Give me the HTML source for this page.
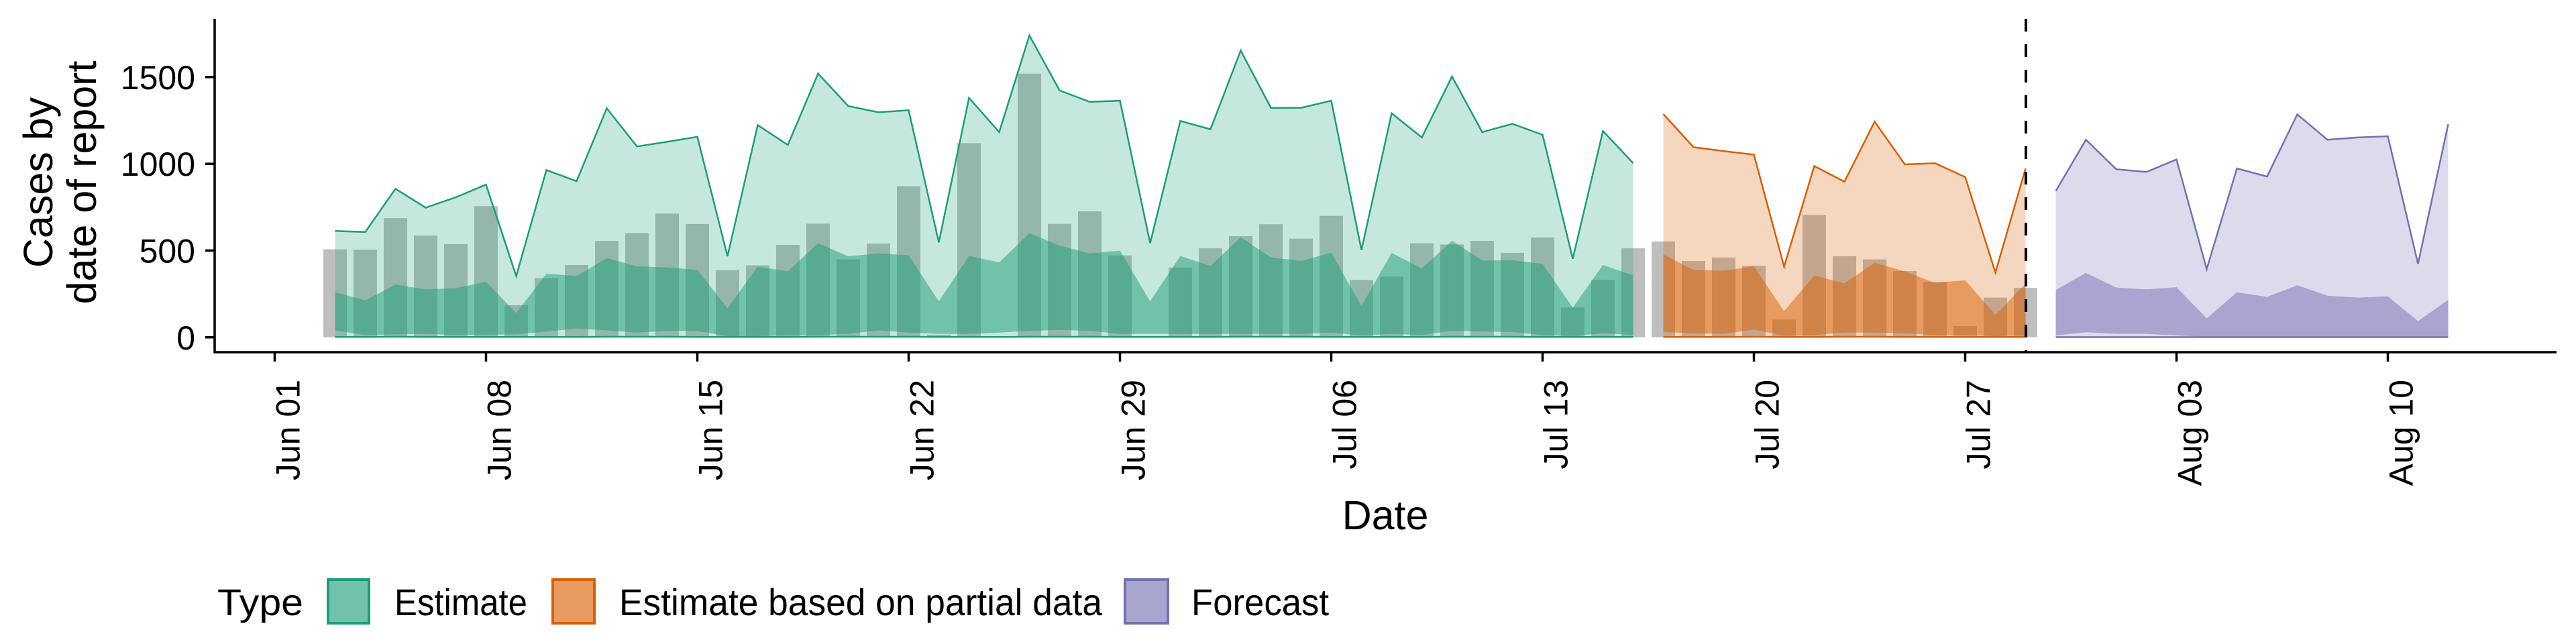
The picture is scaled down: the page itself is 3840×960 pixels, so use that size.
<!DOCTYPE html>
<html><head><meta charset="utf-8"><style>
html,body{margin:0;padding:0;background:#fff;}
svg{display:block;font-family:"Liberation Sans",Arial,sans-serif;}
</style></head><body>
<svg id="chart" width="3840" height="960" viewBox="0 0 3840 960" xmlns="http://www.w3.org/2000/svg">
<g id="bars"></g>
<g id="bands"></g>
<g id="axes"></g>
<line x1="3020" y1="28" x2="3020" y2="525" stroke="#000" stroke-width="4" stroke-dasharray="19,19"/>
<text transform="translate(78,272) rotate(-90)" text-anchor="middle" font-size="61">Cases by</text>
<text transform="translate(143,272) rotate(-90)" text-anchor="middle" font-size="61">date of report</text>
<text x="2065" y="789" text-anchor="middle" font-size="61">Date</text>
<g>
<text x="324" y="917" font-size="56" textLength="128" lengthAdjust="spacingAndGlyphs">Type</text>
<rect x="489" y="864" width="61" height="65" fill="#71c2aa" stroke="#1b9e77" stroke-width="4"/>
<text x="588" y="917" font-size="56" textLength="198" lengthAdjust="spacingAndGlyphs">Estimate</text>
<rect x="824" y="864" width="62" height="65" fill="#e89b60" stroke="#d95f02" stroke-width="4"/>
<text x="923" y="917" font-size="56" textLength="720" lengthAdjust="spacingAndGlyphs">Estimate based on partial data</text>
<rect x="1677" y="864" width="64" height="65" fill="#a8a5ce" stroke="#7570b3" stroke-width="4"/>
<text x="1776" y="917" font-size="56" textLength="205" lengthAdjust="spacingAndGlyphs">Forecast</text>
</g>
</svg>
<script>
const barStart = "2020-06-03";
const barValues = [507,505,687,586,537,756,185,340,417,556,601,713,653,387,415,533,655,449,540,871,15,1119,0,1520,654,726,472,0,402,513,583,652,569,700,331,350,542,535,556,487,575,172,332,513,552,440,460,413,102,705,468,449,382,320,65,229,285];

const estStart = "2020-06-03";
const estUpper90 = [613,607,856,747,807,880,353,964,900,1320,1100,1127,1156,467,1223,1109,1520,1333,1297,1309,547,1380,1183,1740,1423,1357,1364,543,1247,1199,1653,1323,1323,1364,503,1291,1152,1503,1183,1231,1167,453,1189,1004];
const estUpper50 = [260,213,304,276,283,320,140,367,353,456,409,403,389,167,407,380,543,467,483,473,207,469,431,600,529,483,500,207,469,411,577,460,440,487,180,487,397,556,443,444,423,171,417,357];
const estLower50 = [40,13,17,20,13,16,17,33,51,40,27,37,37,7,7,11,13,20,40,27,20,20,27,37,43,37,20,20,20,20,20,20,20,27,11,20,13,37,33,31,13,7,24,13];
const estLower90 = [2,2,3,2,2,2,2,2,2,3,3,3,2,2,2,2,3,3,3,3,2,2,2,3,3,3,2,2,2,2,3,3,3,2,2,2,2,3,3,3,2,2,2,2];

const partStart = "2020-07-17";
const partUpper90 = [1287,1096,1073,1053,407,987,897,1243,997,1003,924,373,973];
const partUpper50 = [477,389,384,409,151,356,311,429,380,313,329,129,309];
const partLower50 = [31,23,20,44,9,13,27,27,23,13,13,7,11];
const partLower90 = [2,2,2,3,2,2,3,3,2,2,2,2,2];

const fcStart = "2020-07-30";
const fcUpper90 = [843,1139,969,953,1025,393,973,927,1285,1139,1152,1159,423,1229];
const fcUpper50 = [273,371,287,276,289,109,259,233,300,240,229,236,93,216];
const fcLower50 = [11,29,20,20,11,3,3,3,3,3,3,3,3,3];
const fcLower90 = [1,1,1,1,1,1,1,1,1,1,1,1,1,1];

const yTicks = [0,500,1000,1500];
const xTickLabels = ["Jun 01","Jun 08","Jun 15","Jun 22","Jun 29","Jul 06","Jul 13","Jul 20","Jul 27","Aug 03","Aug 10"];
const xTickDates = ["2020-06-01","2020-06-08","2020-06-15","2020-06-22","2020-06-29","2020-07-06","2020-07-13","2020-07-20","2020-07-27","2020-08-03","2020-08-10"];

const NS = "http://www.w3.org/2000/svg";
const origin = Date.UTC(2020,5,1);
function dayOf(s){const p=s.split("-");return (Date.UTC(+p[0],+p[1]-1,+p[2])-origin)/86400000;}
function xScale(day){return 409.5 + 45*day;}
function yScale(v){return 502.8 - v*0.2586;}
function mk(tag, parent){const e=document.createElementNS(NS,tag);parent.appendChild(e);return e;}

const barsG = document.getElementById('bars');
const b0 = dayOf(barStart);
barValues.forEach((v,i)=>{
  const r = mk('rect', barsG);
  
  
  const cx = xScale(b0+i);
  r.setAttribute('x', cx-17.5); r.setAttribute('width', 35);
  r.setAttribute('y', yScale(v)); r.setAttribute('height', Math.max(0, yScale(0)-yScale(v)));
  r.setAttribute('fill', '#bebebe');
});

const bandsG = document.getElementById('bands');
function band(start, lo, hi, color, alpha, name){
  const d0 = dayOf(start);
  let d = '';
  hi.forEach((v,i)=>{d += (i?'L':'M') + xScale(d0+i).toFixed(1)+','+yScale(v).toFixed(1);});
  for(let i=lo.length-1;i>=0;i--){d += 'L'+xScale(d0+i).toFixed(1)+','+yScale(lo[i]).toFixed(1);}
  const p = mk('path', bandsG);
  
  
  p.setAttribute('d', d+'Z'); p.setAttribute('fill', color); p.setAttribute('fill-opacity', alpha);
}
function line(start, vals, color, name){
  const d0 = dayOf(start);
  const pts = vals.map((v,i)=>xScale(d0+i).toFixed(1)+','+yScale(v).toFixed(1)).join(' ');
  const l = mk('polyline', bandsG);
  
  
  l.setAttribute('points', pts); l.setAttribute('fill','none'); l.setAttribute('stroke', color); l.setAttribute('stroke-width', 2.5);
}
[[estStart,estLower90,estLower50,estUpper50,estUpper90,'#1b9e77','estimate'],
 [partStart,partLower90,partLower50,partUpper50,partUpper90,'#d95f02','partial'],
 [fcStart,fcLower90,fcLower50,fcUpper50,fcUpper90,'#7570b3','forecast']].forEach(s=>{
  band(s[0], s[1], s[4], s[5], 0.25, s[6]+'-band-90');
  band(s[0], s[2], s[3], s[5], 0.5, s[6]+'-band-50');
  line(s[0], s[4], s[5], s[6]+'-upper-line');
  line(s[0], s[1], s[5], s[6]+'-lower-line');
});

const axesG = document.getElementById('axes');
const ya = mk('line', axesG);


ya.setAttribute('x1',320);ya.setAttribute('x2',320);ya.setAttribute('y1',28);ya.setAttribute('y2',526.5);ya.setAttribute('stroke','#000');ya.setAttribute('stroke-width',3.5);
const xa = mk('line', axesG);


xa.setAttribute('x1',318.5);xa.setAttribute('x2',3811);xa.setAttribute('y1',525);xa.setAttribute('y2',525);xa.setAttribute('stroke','#000');xa.setAttribute('stroke-width',3.5);
yTicks.forEach(v=>{
  const t = mk('line', axesG);
  
  
  t.setAttribute('x1',306);t.setAttribute('x2',320);t.setAttribute('y1',yScale(v));t.setAttribute('y2',yScale(v));t.setAttribute('stroke','#000');t.setAttribute('stroke-width',3.5);
  const l = mk('text', axesG);
  
  
  l.setAttribute('x',291);l.setAttribute('y',yScale(v)+18);l.setAttribute('text-anchor','end');l.setAttribute('font-size',50);
  l.textContent = v;
});
xTickLabels.forEach((lab,i)=>{
  const x = xScale(dayOf(xTickDates[i]));
  const t = mk('line', axesG);
  
  
  t.setAttribute('x1',x);t.setAttribute('x2',x);t.setAttribute('y1',525);t.setAttribute('y2',539);t.setAttribute('stroke','#000');t.setAttribute('stroke-width',3.5);
  const l = mk('text', axesG);
  
  
  l.setAttribute('transform','translate('+(x+37)+',566) rotate(-90)');
  l.setAttribute('text-anchor','end');l.setAttribute('font-size',50);
  l.textContent = lab;
});
</script>
</body></html>
